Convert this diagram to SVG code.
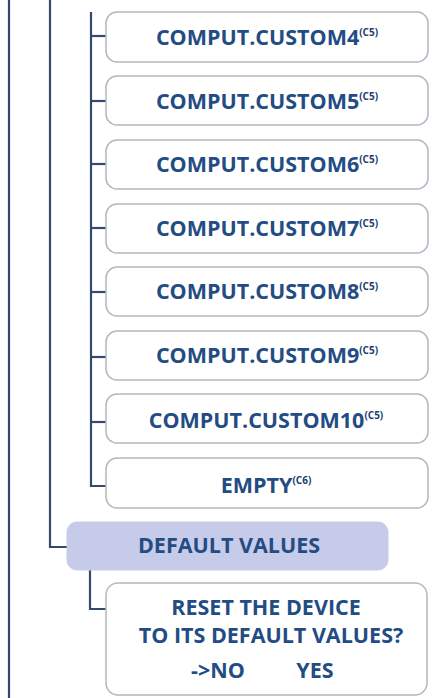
<svg xmlns="http://www.w3.org/2000/svg" width="434" height="698" viewBox="0 0 434 698">
<defs>
<style>
.box{fill:#ffffff;stroke:#b3b7c2;stroke-width:1.5}
.sel{fill:#c6cbe9;stroke:#c6cbe9;stroke-width:1}
.lbl{font-family:"Open Sans","Liberation Sans",sans-serif;font-weight:bold;font-size:21.5px;fill:#234c84;text-anchor:middle}
.sup{font-size:10px;fill:#1d3f6e}
.wire{fill:none;stroke:#34496e;stroke-width:2.2}
</style>
</defs>
<g id="connectors">
<line class="wire" x1="9" y1="0" x2="9" y2="698"/>
<polyline class="wire" points="50,0 50,547 67,547"/>
<polyline class="wire" points="91,12 91,486 107,486"/>
<line class="wire" x1="91" y1="36" x2="107" y2="36"/>
<line class="wire" x1="91" y1="101" x2="107" y2="101"/>
<line class="wire" x1="91" y1="164" x2="107" y2="164"/>
<line class="wire" x1="91" y1="228" x2="107" y2="228"/>
<line class="wire" x1="91" y1="292" x2="107" y2="292"/>
<line class="wire" x1="91" y1="357" x2="107" y2="357"/>
<line class="wire" x1="91" y1="422" x2="107" y2="422"/>
<polyline class="wire" points="90,570 90,609 107,609"/>
</g>
<g id="n4"><rect class="box" x="106" y="12" width="322" height="50" rx="11"/><text class="lbl" x="267" y="45">COMPUT.CUSTOM4<tspan class="sup" dy="-9">(C5)</tspan></text></g>
<g id="n5"><rect class="box" x="106" y="76" width="322" height="49" rx="11"/><text class="lbl" x="267" y="109">COMPUT.CUSTOM5<tspan class="sup" dy="-9">(C5)</tspan></text></g>
<g id="n6"><rect class="box" x="106" y="140" width="322" height="49" rx="11"/><text class="lbl" x="267" y="172">COMPUT.CUSTOM6<tspan class="sup" dy="-9">(C5)</tspan></text></g>
<g id="n7"><rect class="box" x="106" y="204" width="322" height="49" rx="11"/><text class="lbl" x="267" y="236">COMPUT.CUSTOM7<tspan class="sup" dy="-9">(C5)</tspan></text></g>
<g id="n8"><rect class="box" x="106" y="267" width="322" height="49" rx="11"/><text class="lbl" x="267" y="299">COMPUT.CUSTOM8<tspan class="sup" dy="-9">(C5)</tspan></text></g>
<g id="n9"><rect class="box" x="106" y="331" width="322" height="49" rx="11"/><text class="lbl" x="267" y="363">COMPUT.CUSTOM9<tspan class="sup" dy="-9">(C5)</tspan></text></g>
<g id="n10"><rect class="box" x="106" y="394" width="322" height="49" rx="11"/><text class="lbl" x="266" y="428">COMPUT.CUSTOM10<tspan class="sup" dy="-9">(C5)</tspan></text></g>
<g id="empty"><rect class="box" x="106" y="458" width="322" height="50" rx="11"/><text class="lbl" x="266" y="493">EMPTY<tspan class="sup" dy="-9">(C6)</tspan></text></g>
<g id="default"><rect class="sel" x="67" y="522" width="321" height="48" rx="10"/><text class="lbl" x="229" y="553">DEFAULT VALUES</text></g>
<g id="reset"><rect class="box" x="106" y="583" width="321" height="112" rx="12"/>
<text class="lbl" x="266" y="615">RESET THE DEVICE</text>
<text class="lbl" x="271" y="643">TO ITS DEFAULT VALUES?</text>
<text class="lbl" x="218" y="678">-&gt;NO</text>
<text class="lbl" x="315" y="678">YES</text>
</g>
</svg>
